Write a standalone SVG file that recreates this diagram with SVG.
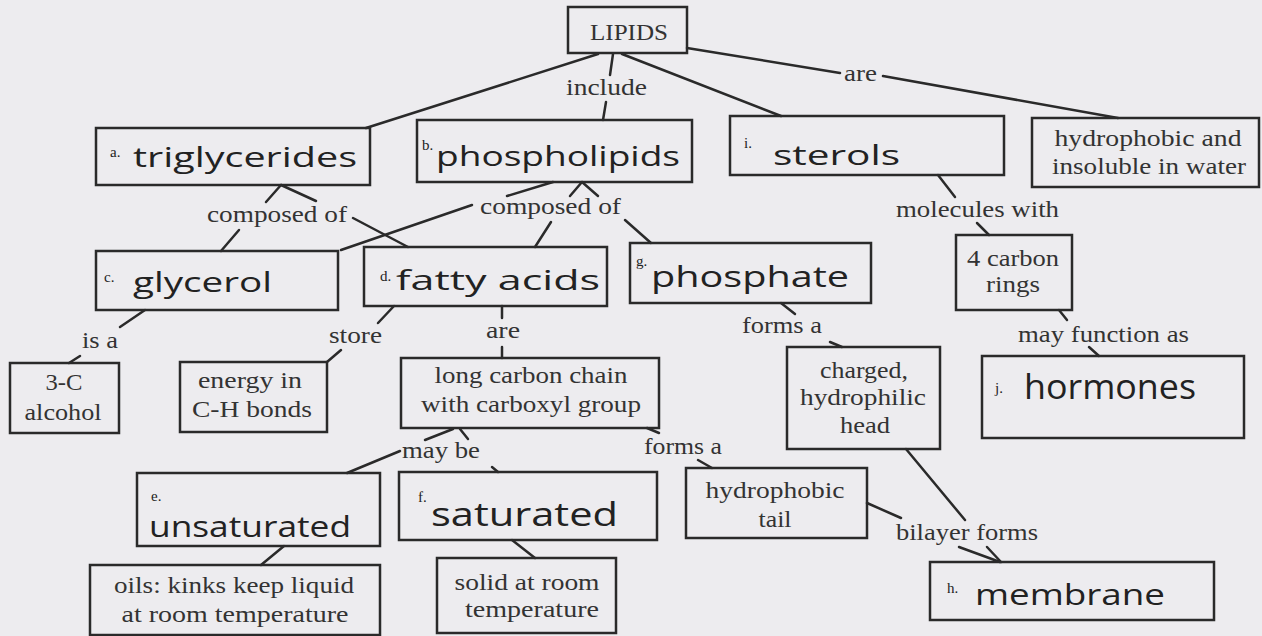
<svg xmlns="http://www.w3.org/2000/svg" width="1262" height="636" viewBox="0 0 1262 636">
<style>
.bg{fill:#edecef}
.box{fill:none;stroke:#2a2a2a;stroke-width:2.5}
.ln{stroke:#2a2a2a;stroke-width:2.5;fill:none;stroke-linecap:round}
.t{font-family:"Liberation Serif","DejaVu Serif",serif;font-size:23px;fill:#333}
.tc{font-family:"Liberation Serif","DejaVu Serif",serif;font-size:23px;fill:#333;text-anchor:middle}
.pre{font-family:"Liberation Serif","DejaVu Serif",serif;font-size:15px;fill:#222}
.hw{font-family:"Open Sans","DejaVu Sans",sans-serif;fill:#222}
</style>
<rect class="bg" x="0" y="0" width="1262" height="636"/>

<g id="connectors">
<line class="ln" x1="598" y1="54" x2="366" y2="128"/>
<line class="ln" x1="613" y1="54" x2="610" y2="75"/>
<line class="ln" x1="606" y1="102" x2="603" y2="120"/>
<line class="ln" x1="622" y1="54" x2="781" y2="116"/>
<line class="ln" x1="687" y1="48" x2="840" y2="73"/>
<line class="ln" x1="883" y1="76" x2="1118" y2="118"/>
<line class="ln" x1="281" y1="185" x2="266" y2="202"/>
<line class="ln" x1="281" y1="185" x2="316" y2="201"/>
<line class="ln" x1="239" y1="230" x2="221" y2="251"/>
<line class="ln" x1="353" y1="218" x2="408" y2="247"/>
<line class="ln" x1="553" y1="182" x2="507" y2="196"/>
<line class="ln" x1="472" y1="205" x2="341" y2="250"/>
<line class="ln" x1="582" y1="182" x2="570" y2="196"/>
<line class="ln" x1="582" y1="182" x2="598" y2="196"/>
<line class="ln" x1="551" y1="222" x2="535" y2="247"/>
<line class="ln" x1="625" y1="220" x2="651" y2="243"/>
<line class="ln" x1="938" y1="175" x2="955" y2="197"/>
<line class="ln" x1="977" y1="223" x2="989" y2="235"/>
<line class="ln" x1="145" y1="310" x2="120" y2="327"/>
<line class="ln" x1="80" y1="356" x2="69" y2="363"/>
<line class="ln" x1="394" y1="306" x2="378" y2="323"/>
<line class="ln" x1="341" y1="350" x2="327" y2="362"/>
<line class="ln" x1="502" y1="306" x2="502" y2="318"/>
<line class="ln" x1="502" y1="347" x2="502" y2="358"/>
<line class="ln" x1="425" y1="440" x2="453" y2="429"/>
<line class="ln" x1="460" y1="429" x2="468" y2="439"/>
<line class="ln" x1="400" y1="451" x2="347" y2="473"/>
<line class="ln" x1="492" y1="467" x2="498" y2="472"/>
<line class="ln" x1="284" y1="546" x2="261" y2="565"/>
<line class="ln" x1="512" y1="540" x2="535" y2="558"/>
<line class="ln" x1="781" y1="303" x2="795" y2="314"/>
<line class="ln" x1="830" y1="342" x2="842" y2="347"/>
<line class="ln" x1="647" y1="428" x2="659" y2="433"/>
<line class="ln" x1="698" y1="460" x2="712" y2="468"/>
<line class="ln" x1="1059" y1="310" x2="1067" y2="320"/>
<line class="ln" x1="1089" y1="347" x2="1099" y2="356"/>
<line class="ln" x1="906" y1="449" x2="965" y2="520"/>
<line class="ln" x1="867" y1="503" x2="901" y2="518"/>
<line class="ln" x1="959" y1="547" x2="1000" y2="562"/>
<line class="ln" x1="987" y1="547" x2="1001" y2="562"/>
<text class="t" x="566" y="95" textLength="81" lengthAdjust="spacingAndGlyphs">include</text>
<text class="t" x="844" y="81" textLength="33" lengthAdjust="spacingAndGlyphs">are</text>
<text class="t" x="207" y="222" textLength="140" lengthAdjust="spacingAndGlyphs">composed of</text>
<text class="t" x="480" y="214" textLength="141" lengthAdjust="spacingAndGlyphs">composed of</text>
<text class="t" x="896" y="217" textLength="163" lengthAdjust="spacingAndGlyphs">molecules with</text>
<text class="t" x="82" y="348" textLength="36" lengthAdjust="spacingAndGlyphs">is a</text>
<text class="t" x="329" y="343" textLength="53" lengthAdjust="spacingAndGlyphs">store</text>
<text class="t" x="486" y="338" textLength="34" lengthAdjust="spacingAndGlyphs">are</text>
<text class="t" x="402" y="458" textLength="78" lengthAdjust="spacingAndGlyphs">may be</text>
<text class="t" x="742" y="333" textLength="80" lengthAdjust="spacingAndGlyphs">forms a</text>
<text class="t" x="644" y="454" textLength="78" lengthAdjust="spacingAndGlyphs">forms a</text>
<text class="t" x="1018" y="342" textLength="171" lengthAdjust="spacingAndGlyphs">may function as</text>
<text class="t" x="896" y="540" textLength="142" lengthAdjust="spacingAndGlyphs">bilayer forms</text>
</g>

<g id="lipids">
<rect class="box" x="568" y="7" width="119" height="46"/>
<text class="t" x="590" y="40" textLength="78" lengthAdjust="spacingAndGlyphs">LIPIDS</text>
</g>

<g id="triglycerides">
<rect class="box" x="96" y="128" width="274" height="57"/>
<text class="pre" x="110" y="157">a.</text>
<text class="hw" x="133" y="167" font-size="27" textLength="224" lengthAdjust="spacingAndGlyphs">triglycerides</text>
</g>

<g id="phospholipids">
<rect class="box" x="417" y="120" width="275" height="62"/>
<text class="pre" x="422" y="150">b.</text>
<text class="hw" x="436" y="166" font-size="28" textLength="244" lengthAdjust="spacingAndGlyphs">phospholipids</text>
</g>

<g id="sterols">
<rect class="box" x="730" y="116" width="274" height="59"/>
<text class="pre" x="744" y="148">i.</text>
<text class="hw" x="773" y="165" font-size="28" textLength="127" lengthAdjust="spacingAndGlyphs">sterols</text>
</g>

<g id="hydrophobic-insoluble">
<rect class="box" x="1032" y="118" width="227" height="69"/>
<text class="tc" x="1148" y="146" textLength="187" lengthAdjust="spacingAndGlyphs">hydrophobic and</text>
<text class="tc" x="1149" y="174" textLength="194" lengthAdjust="spacingAndGlyphs">insoluble in water</text>
</g>

<g id="glycerol">
<rect class="box" x="96" y="251" width="242" height="59"/>
<text class="pre" x="104" y="282">c.</text>
<text class="hw" x="133" y="292" font-size="28" textLength="139" lengthAdjust="spacingAndGlyphs">glycerol</text>
</g>

<g id="fatty-acids">
<rect class="box" x="364" y="247" width="243" height="59"/>
<text class="pre" x="380" y="281">d.</text>
<text class="hw" x="396" y="290" font-size="28" textLength="204" lengthAdjust="spacingAndGlyphs">fatty acids</text>
</g>

<g id="phosphate">
<rect class="box" x="630" y="243" width="241" height="60"/>
<text class="pre" x="636" y="266">g.</text>
<text class="hw" x="651" y="287" font-size="30" textLength="198" lengthAdjust="spacingAndGlyphs">phosphate</text>
</g>

<g id="four-carbon-rings">
<rect class="box" x="956" y="235" width="116" height="75"/>
<text class="tc" x="1013" y="266" textLength="92" lengthAdjust="spacingAndGlyphs">4 carbon</text>
<text class="tc" x="1013" y="292" textLength="54" lengthAdjust="spacingAndGlyphs">rings</text>
</g>

<g id="three-c-alcohol">
<rect class="box" x="10" y="363" width="109" height="70"/>
<text class="tc" x="64" y="390" textLength="37" lengthAdjust="spacingAndGlyphs">3-C</text>
<text class="tc" x="63" y="420" textLength="77" lengthAdjust="spacingAndGlyphs">alcohol</text>
</g>

<g id="energy">
<rect class="box" x="180" y="362" width="147" height="70"/>
<text class="tc" x="250" y="388" textLength="104" lengthAdjust="spacingAndGlyphs">energy in</text>
<text class="tc" x="252" y="417" textLength="120" lengthAdjust="spacingAndGlyphs">C-H bonds</text>
</g>

<g id="long-carbon-chain">
<rect class="box" x="401" y="358" width="258" height="70"/>
<text class="tc" x="531" y="383" textLength="193" lengthAdjust="spacingAndGlyphs">long carbon chain</text>
<text class="tc" x="531" y="412" textLength="220" lengthAdjust="spacingAndGlyphs">with carboxyl group</text>
</g>

<g id="charged-head">
<rect class="box" x="787" y="347" width="153" height="102"/>
<text class="tc" x="864" y="378" textLength="88" lengthAdjust="spacingAndGlyphs">charged,</text>
<text class="tc" x="863" y="405" textLength="126" lengthAdjust="spacingAndGlyphs">hydrophilic</text>
<text class="tc" x="865" y="433" textLength="50" lengthAdjust="spacingAndGlyphs">head</text>
</g>

<g id="hormones">
<rect class="box" x="982" y="356" width="262" height="82"/>
<text class="pre" x="995" y="393">j.</text>
<text class="hw" x="1024" y="399" font-size="34" textLength="172" lengthAdjust="spacingAndGlyphs">hormones</text>
</g>

<g id="unsaturated">
<rect class="box" x="137" y="473" width="243" height="73"/>
<text class="pre" x="151" y="501">e.</text>
<text class="hw" x="149" y="537" font-size="30" textLength="202" lengthAdjust="spacingAndGlyphs">unsaturated</text>
</g>

<g id="saturated">
<rect class="box" x="399" y="472" width="258" height="68"/>
<text class="pre" x="418" y="502">f.</text>
<text class="hw" x="431" y="526" font-size="32" textLength="187" lengthAdjust="spacingAndGlyphs">saturated</text>
</g>

<g id="hydrophobic-tail">
<rect class="box" x="686" y="468" width="181" height="70"/>
<text class="tc" x="775" y="498" textLength="139" lengthAdjust="spacingAndGlyphs">hydrophobic</text>
<text class="tc" x="775" y="527" textLength="33" lengthAdjust="spacingAndGlyphs">tail</text>
</g>

<g id="oils">
<rect class="box" x="90" y="565" width="290" height="70"/>
<text class="tc" x="234" y="593" textLength="240" lengthAdjust="spacingAndGlyphs">oils: kinks keep liquid</text>
<text class="tc" x="235" y="622" textLength="227" lengthAdjust="spacingAndGlyphs">at room temperature</text>
</g>

<g id="solid">
<rect class="box" x="437" y="558" width="179" height="75"/>
<text class="tc" x="527" y="590" textLength="145" lengthAdjust="spacingAndGlyphs">solid at room</text>
<text class="tc" x="532" y="617" textLength="134" lengthAdjust="spacingAndGlyphs">temperature</text>
</g>

<g id="membrane">
<rect class="box" x="930" y="562" width="284" height="58"/>
<text class="pre" x="947" y="593">h.</text>
<text class="hw" x="975" y="605" font-size="30" textLength="190" lengthAdjust="spacingAndGlyphs">membrane</text>
</g>
</svg>
